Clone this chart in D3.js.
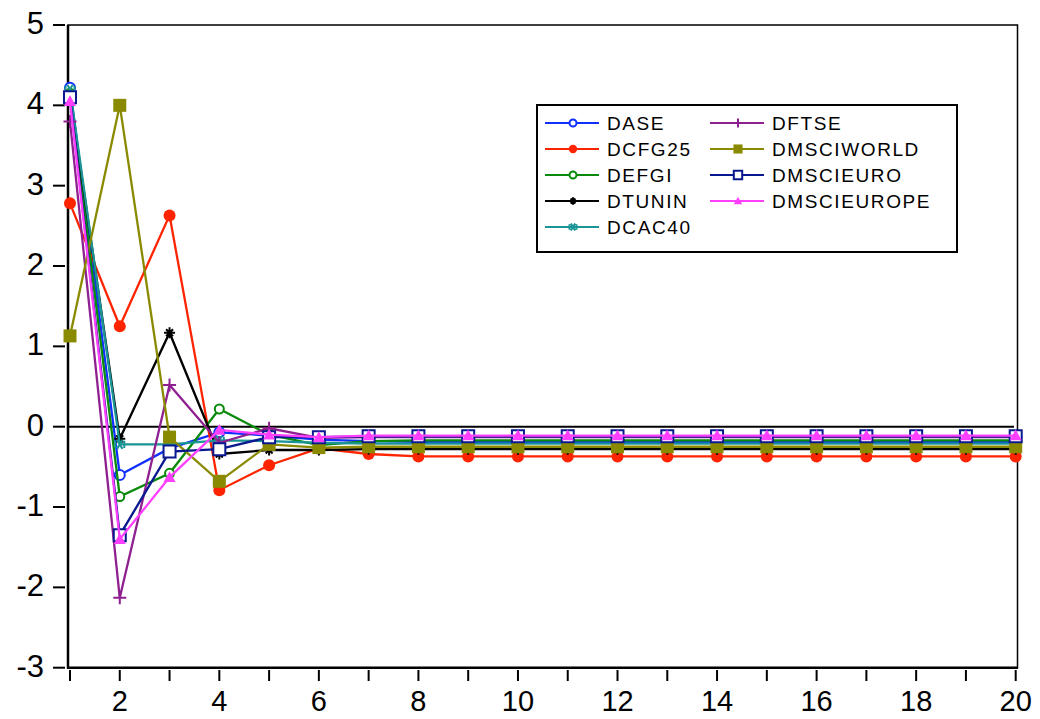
<!DOCTYPE html>
<html><head><meta charset="utf-8">
<script src="https://cdn.jsdelivr.net/npm/d3@7"></script>
<style>body{margin:0;background:#fff} svg{display:block}</style>
</head><body><svg width="1040" height="719"></svg>
<script>
const periods = [1,2,3,4,5,6,7,8,9,10,11,12,13,14,15,16,17,18,19,20];
const yTicks = [-3,-2,-1,0,1,2,3,4,5];
const xLabelTicks = [2,4,6,8,10,12,14,16,18,20];
const seriesNames = ["DASE","DCFG25","DEFGI","DTUNIN","DCAC40","DFTSE","DMSCIWORLD","DMSCIEURO","DMSCIEUROPE"];
const DASE = [4.22,-0.60,-0.27,-0.07,-0.11,-0.16,-0.18,-0.19,-0.19,-0.19,-0.19,-0.19,-0.19,-0.19,-0.19,-0.19,-0.19,-0.19,-0.19,-0.19];
const DCFG25 = [2.78,1.25,2.63,-0.79,-0.48,-0.27,-0.34,-0.37,-0.37,-0.37,-0.37,-0.37,-0.37,-0.37,-0.37,-0.37,-0.37,-0.37,-0.37,-0.37];
const DEFGI = [4.15,-0.87,-0.58,0.22,-0.10,-0.23,-0.18,-0.17,-0.17,-0.17,-0.17,-0.17,-0.17,-0.17,-0.17,-0.17,-0.17,-0.17,-0.17,-0.17];
const DTUNIN = [4.12,-0.15,1.17,-0.34,-0.29,-0.29,-0.28,-0.28,-0.28,-0.28,-0.28,-0.28,-0.28,-0.28,-0.28,-0.28,-0.28,-0.28,-0.28,-0.28];
const DCAC40 = [4.20,-0.22,-0.22,-0.17,-0.18,-0.20,-0.21,-0.21,-0.21,-0.21,-0.21,-0.21,-0.21,-0.21,-0.21,-0.21,-0.21,-0.21,-0.21,-0.21];
const DFTSE = [3.80,-2.13,0.52,-0.20,-0.02,-0.14,-0.13,-0.13,-0.13,-0.13,-0.13,-0.13,-0.13,-0.13,-0.13,-0.13,-0.13,-0.13,-0.13,-0.13];
const DMSCIWORLD = [1.13,4.00,-0.13,-0.68,-0.22,-0.26,-0.25,-0.25,-0.25,-0.25,-0.25,-0.25,-0.25,-0.25,-0.25,-0.25,-0.25,-0.25,-0.25,-0.25];
const DMSCIEURO = [4.10,-1.35,-0.31,-0.28,-0.13,-0.13,-0.12,-0.12,-0.12,-0.12,-0.12,-0.12,-0.12,-0.12,-0.12,-0.12,-0.12,-0.12,-0.12,-0.12];
const DMSCIEUROPE = [4.05,-1.40,-0.63,-0.04,-0.10,-0.13,-0.11,-0.11,-0.11,-0.11,-0.11,-0.11,-0.11,-0.11,-0.11,-0.11,-0.11,-0.11,-0.11,-0.11];

const seriesValues = [DASE,DCFG25,DEFGI,DTUNIN,DCAC40,DFTSE,DMSCIWORLD,DMSCIEURO,DMSCIEUROPE];
const styles = [
  {color:"#1030ff", marker:"circleOpen", size:10},
  {color:"#ff2400", marker:"circleFill", size:12},
  {color:"#0a8a0a", marker:"circleOpen", size:9},
  {color:"#000000", marker:"asterisk", size:11},
  {color:"#1a9494", marker:"times", size:9},
  {color:"#8e2090", marker:"plus", size:13},
  {color:"#8a8a00", marker:"squareFill", size:13},
  {color:"#0a1890", marker:"squareOpen", size:12},
  {color:"#ff40ff", marker:"triangle", size:12}
];

const svg = d3.select("svg");
const x = d3.scaleLinear().domain([1,20]).range([70,1015.7]);
const y = d3.scaleLinear().domain([-3,5]).range([667.7,25]);
const font = "'Liberation Sans', Arial, sans-serif";

// frame
svg.append("rect").attr("x",68).attr("y",25).attr("width",1017.5-68).attr("height",667.7-25)
  .attr("fill","none").attr("stroke","#000").attr("stroke-width",1.5);
svg.append("line").attr("x1",68).attr("x2",68).attr("y1",25).attr("y2",668.7).attr("stroke","#000").attr("stroke-width",2.5);
svg.append("line").attr("x1",67).attr("x2",1018).attr("y1",667.7).attr("y2",667.7).attr("stroke","#000").attr("stroke-width",2.5);

// zero line
svg.append("line").attr("x1",68).attr("x2",1014).attr("y1",y(0)).attr("y2",y(0)).attr("stroke","#000").attr("stroke-width",2);

// y ticks
const yg = svg.append("g");
yTicks.forEach(t=>{
  yg.append("line").attr("x1",53).attr("x2",65).attr("y1",y(t)).attr("y2",y(t)).attr("stroke","#000").attr("stroke-width",2);
  yg.append("text").attr("x",44).attr("y",y(t)+9).attr("text-anchor","end")
    .attr("font-family",font).attr("font-size",31).attr("fill","#000").text(String(t));
});
// x ticks
const xg = svg.append("g");
periods.forEach(p=>{
  xg.append("line").attr("x1",x(p)).attr("x2",x(p)).attr("y1",670).attr("y2",681).attr("stroke","#000").attr("stroke-width",2);
});
xLabelTicks.forEach(p=>{
  xg.append("text").attr("x",x(p)).attr("y",711).attr("text-anchor","middle")
    .attr("font-family",font).attr("font-size",29).attr("fill","#000").text(String(p));
});

function markerPath(type, size){
  const s = size/2;
  switch(type){
    case "circleOpen": case "circleFill": return d3.arc()({innerRadius:0,outerRadius:s,startAngle:0,endAngle:2*Math.PI});
    case "squareFill": case "squareOpen": return `M${-s},${-s}H${s}V${s}H${-s}Z`;
    case "triangle": return `M0,${-s}L${s},${s*0.8}L${-s},${s*0.8}Z`;
    case "plus": return `M${-s},0H${s}M0,${-s}V${s}`;
    case "times": return `M${-s*0.6},${-s}L${s*0.6},${s}M${s*0.6},${-s}L${-s*0.6},${s}M${-s},${-s*0.8}V${s*0.8}M${s},${-s*0.8}V${s*0.8}`;
    case "asterisk": {
      const a = s*0.9;
      return `M${-s},0H${s}M0,${-s}V${s}M${-a*0.7},${-a*0.7}L${a*0.7},${a*0.7}M${a*0.7},${-a*0.7}L${-a*0.7},${a*0.7}`;
    }
  }
}
function drawMarker(g, st, cx, cy, size){
  const p = g.append("path").attr("d",markerPath(st.marker,size)).attr("transform",`translate(${cx},${cy})`);
  if(st.marker==="circleOpen"||st.marker==="squareOpen"){
    p.attr("fill","#fff").attr("stroke",st.color).attr("stroke-width",2);
  } else if(st.marker==="circleFill"||st.marker==="squareFill"||st.marker==="triangle"){
    p.attr("fill",st.color).attr("stroke","none");
  } else {
    p.attr("fill","none").attr("stroke",st.color).attr("stroke-width",2);
  }
}

const line = d3.line().x((d,i)=>x(periods[i])).y(d=>y(d));
const plot = svg.append("g");
seriesValues.forEach((vals,k)=>{
  const st = styles[k];
  const g = plot.append("g");
  g.append("path").attr("d",line(vals)).attr("fill","none").attr("stroke",st.color).attr("stroke-width",2.3);
  vals.forEach((v,i)=>drawMarker(g, st, x(periods[i]), y(v), st.size));
});

// legend
const lg = svg.append("g");
lg.append("rect").attr("x",537).attr("y",105).attr("width",957-537).attr("height",252-105)
  .attr("fill","#fff").attr("stroke","#000").attr("stroke-width",2);
seriesNames.forEach((name,k)=>{
  const col = k<5?0:1, row = k<5?k:k-5;
  const x0 = col===0?545:710;
  const yy = 123 + row*26;
  const st = styles[k];
  lg.append("line").attr("x1",x0).attr("x2",x0+54).attr("y1",yy).attr("y2",yy).attr("stroke",st.color).attr("stroke-width",2);
  drawMarker(lg, st, x0+28, yy, Math.max(7, st.size*0.7));
  lg.append("text").attr("x",x0+62).attr("y",yy+7).attr("font-family",font).attr("font-size",19)
    .attr("letter-spacing",1.6).attr("fill","#000").text(name);
});
</script></body></html>
